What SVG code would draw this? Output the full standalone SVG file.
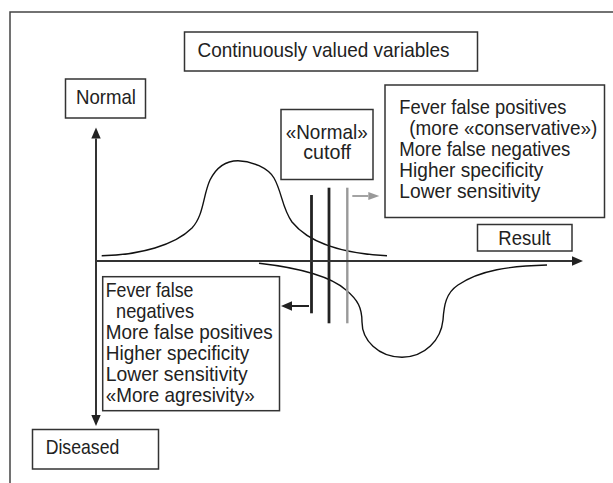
<svg xmlns="http://www.w3.org/2000/svg" width="613" height="483" viewBox="0 0 613 483">
<style>
.box{fill:#fff;stroke:#333;stroke-width:1.5}
.t{font-family:"Liberation Sans",Arial,sans-serif;font-size:21px;fill:#222}
.ax{stroke:#333;stroke-width:2;fill:none}
.cv{stroke:#111;stroke-width:1.4;fill:none}
.cut{stroke:#222;stroke-width:2.8}
.cutg{stroke:#999;stroke-width:2.4}
</style>
<defs>
<marker id="ah" markerUnits="userSpaceOnUse" markerWidth="12" markerHeight="10" refX="0" refY="4.7" orient="auto-start-reverse"><path d="M0,0 L11,4.7 L0,9.4 z" fill="#222"/></marker>
<marker id="ahg" markerUnits="userSpaceOnUse" markerWidth="12" markerHeight="10" refX="0" refY="4" orient="auto"><path d="M0,0 L11,4 L0,8 z" fill="#999"/></marker>
</defs>
<rect width="613" height="483" fill="#fff"/>
<path d="M10,483 V12 H613" fill="none" stroke="#444" stroke-width="1.5"/>

<g id="title"><rect class="box" x="184.5" y="32" width="293" height="39"/><text class="t" x="197.5" y="56.7" textLength="252" lengthAdjust="spacingAndGlyphs">Continuously valued variables</text></g>
<g id="normal"><rect class="box" x="65.5" y="79" width="80" height="39"/><text class="t" x="76" y="103.7" textLength="60" lengthAdjust="spacingAndGlyphs">Normal</text></g>
<g id="cutoff"><rect class="box" x="281" y="109.5" width="92" height="70"/><text class="t" x="285.7" y="139.3" textLength="82" lengthAdjust="spacingAndGlyphs">«Normal»</text><text class="t" x="303.3" y="159.3" textLength="47.7" lengthAdjust="spacingAndGlyphs">cutoff</text></g>
<g id="conservative"><rect class="box" x="385" y="85" width="219.5" height="132.5"/>
<text class="t" x="399.3" y="114" textLength="167" lengthAdjust="spacingAndGlyphs">Fever false positives</text>
<text class="t" x="409.3" y="135" textLength="188" lengthAdjust="spacingAndGlyphs">(more «conservative»)</text>
<text class="t" x="399.3" y="156" textLength="171" lengthAdjust="spacingAndGlyphs">More false negatives</text>
<text class="t" x="399.3" y="177" textLength="144" lengthAdjust="spacingAndGlyphs">Higher specificity</text>
<text class="t" x="399.3" y="198" textLength="141" lengthAdjust="spacingAndGlyphs">Lower sensitivity</text></g>
<g id="result"><rect class="box" x="477.5" y="224.5" width="94.5" height="26.5"/><text class="t" x="498.3" y="245.3" textLength="52.4" lengthAdjust="spacingAndGlyphs">Result</text></g>
<g id="aggressive"><rect class="box" x="102.7" y="276.7" width="176.8" height="134"/>
<text class="t" x="105.7" y="297" textLength="87.7" lengthAdjust="spacingAndGlyphs">Fever false</text>
<text class="t" x="116" y="318" textLength="78" lengthAdjust="spacingAndGlyphs">negatives</text>
<text class="t" x="105.7" y="339" textLength="167" lengthAdjust="spacingAndGlyphs">More false positives</text>
<text class="t" x="105.7" y="360" textLength="143.6" lengthAdjust="spacingAndGlyphs">Higher specificity</text>
<text class="t" x="105.7" y="381" textLength="142" lengthAdjust="spacingAndGlyphs">Lower sensitivity</text>
<text class="t" x="105.7" y="402" textLength="149" lengthAdjust="spacingAndGlyphs">«More agresivity»</text></g>
<g id="diseased"><rect class="box" x="32.5" y="429.5" width="126" height="39.5"/><text class="t" x="45.7" y="454" textLength="73.6" lengthAdjust="spacingAndGlyphs">Diseased</text></g>

<g id="plot">
<path class="cv" d="M101.7,255.7 C140,255 175,245 192,228 C204,215 203,195 210,180 C216,168 226,160.7 238,160.7 C252,161 268,168 274,178 C282,192 282,208 292,222 C305,238 330,253 387,255.7"/>
<path class="cv" d="M259,263.3 C300,268 330,276 346,290 C358,300 362,308 362,322 C362,340 378,357 402,357.3 C425,357 441,340 443,320 C444,305 446,293 458,285 C480,270 510,266 547,265"/>
<line class="cut" x1="311.5" y1="195" x2="311.5" y2="313.3"/>
<line class="cut" x1="329" y1="187.7" x2="329" y2="323.3"/>
<line class="cutg" x1="347.3" y1="187.7" x2="347.3" y2="323.3"/>
</g>

<g id="connectors">
<line class="ax" x1="96" y1="138.5" x2="96" y2="415" marker-start="url(#ah)" marker-end="url(#ah)"/>
<line class="ax" x1="95" y1="261" x2="572" y2="261" marker-end="url(#ah)"/>
<line stroke="#222" stroke-width="2" x1="309" y1="306" x2="292" y2="306" marker-end="url(#ah)"/>
<line stroke="#999" stroke-width="1.8" x1="352.3" y1="196" x2="368.3" y2="196" marker-end="url(#ahg)"/>
</g>
</svg>
